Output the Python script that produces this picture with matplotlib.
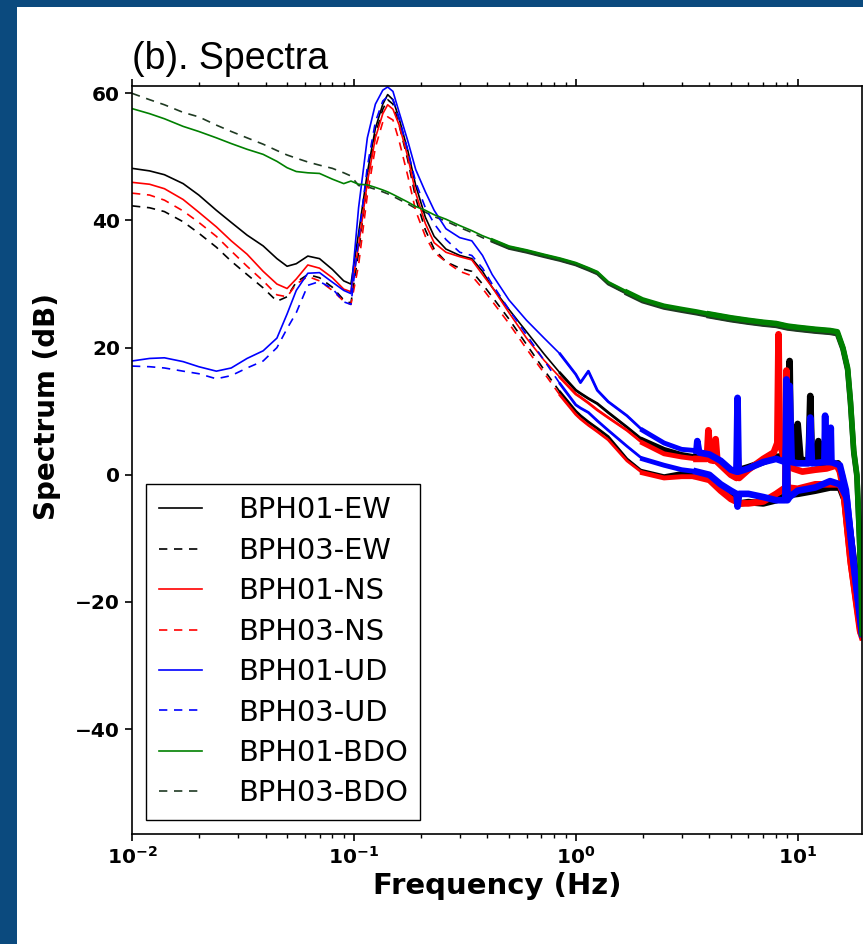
import numpy as np
import matplotlib.pyplot as plt
from matplotlib.patches import Rectangle

# ---- data (frequency in Hz, spectrum in dB) ----
freq_low = [0.01, 0.012, 0.014, 0.017, 0.02, 0.024, 0.028, 0.033, 0.039, 0.045,
            0.05, 0.055, 0.062, 0.07, 0.08, 0.09, 0.097, 0.105, 0.115, 0.125,
            0.135, 0.142, 0.15, 0.16, 0.175, 0.19, 0.21, 0.23, 0.26, 0.3,
            0.34, 0.38, 0.42, 0.5, 0.6, 0.72, 0.85, 1.0, 1.05, 1.14,
            1.25, 1.4, 1.7, 2.0, 2.5, 3.0]

ew01_low = [48.2, 47.8, 47.2, 45.8, 44.0, 41.6, 39.7, 37.7, 36.0, 34.0,
            32.8, 33.2, 34.4, 34.0, 32.3, 30.5, 30.0, 38.0, 47.5, 54.5,
            58.3, 59.8, 59.0, 56.0, 51.0, 45.5, 40.5, 37.5, 35.5, 34.5,
            34.0, 32.0, 29.5, 26.0, 22.5, 19.0, 16.0, 13.3, 12.8, 12.0,
            11.2, 9.8, 7.5, 5.5, 4.0, 3.2]
ew03_low = [42.3, 42.0, 41.4, 39.8, 38.0, 35.8, 33.6, 31.5, 29.4, 27.3,
            28.0, 30.3, 31.5, 31.0, 29.5, 27.5, 27.0, 35.0, 46.0, 53.5,
            57.5, 59.0, 58.3, 55.0, 49.5, 43.5, 38.5, 35.5, 33.5, 32.5,
            32.0, 30.0, 28.0, 24.5, 20.5, 16.5, 13.0, 10.0, 9.3, 8.3,
            7.3, 6.0, 2.5, 0.5, -0.3, 0.2]
ns01_low = [46.0, 45.7, 45.0, 43.3, 41.3, 39.0, 36.8, 34.7, 32.0, 30.0,
            29.3, 30.8, 33.0, 32.5, 31.0, 29.2, 28.8, 36.0, 46.0, 53.0,
            56.8, 58.2, 57.5, 55.0, 50.0, 44.3, 39.5, 36.5, 35.0, 34.3,
            33.8, 31.5, 29.5, 25.5, 21.5, 18.0, 15.3, 12.7, 12.2, 11.3,
            10.2, 9.0, 7.0, 5.0, 3.3, 2.8]
ns03_low = [44.3, 44.0, 43.2, 41.5, 39.7, 37.5, 35.2, 32.8, 30.5, 28.3,
            28.0, 30.0, 31.2, 30.5, 29.0, 27.3, 26.8, 33.0, 44.0, 51.5,
            55.5, 56.3, 55.8, 52.5, 47.0, 41.5, 37.5, 35.0, 33.5, 32.0,
            31.3, 29.3, 27.3, 23.8, 19.8, 16.0, 12.5, 9.5, 8.8, 7.8,
            6.8, 5.5, 2.2, 0.3, -0.5, -0.3]
ud01_low = [17.9, 18.3, 18.4, 17.8, 17.0, 16.3, 16.8, 18.3, 19.5, 21.5,
            25.3, 29.0, 31.7, 31.8, 30.3, 29.0, 28.5, 42.0, 53.0, 58.3,
            60.5, 61.0, 60.3, 57.0, 52.5, 48.0, 44.5, 41.6, 38.7, 37.3,
            36.8, 34.5, 31.5, 27.5, 24.3, 21.5, 19.0, 15.8, 14.5, 16.3,
            13.3, 11.5, 9.3, 7.0, 5.0, 4.0]
ud03_low = [17.1, 17.0, 16.8, 16.3, 15.9, 15.1, 15.6, 16.8, 17.9, 20.0,
            23.0, 25.5, 29.8, 30.4, 29.3, 27.2, 26.8, 37.0, 48.5, 55.5,
            58.8, 59.5, 59.0, 56.0, 51.0, 46.0, 42.0, 39.5, 37.0, 35.0,
            34.5, 32.5, 30.0, 26.0, 22.0, 18.0, 14.3, 11.0, 10.5, 9.8,
            8.5, 7.0, 4.5, 2.5, 1.5, 0.8]
bdo01_low = [57.6, 56.8, 56.0, 54.8, 54.0, 53.0, 52.1, 51.2, 50.4, 49.3,
             48.3, 47.7, 47.5, 47.4, 46.5, 45.8, 46.2, 45.7, 45.6, 45.2,
             44.8, 44.5, 44.1, 43.6, 42.9, 42.2, 41.6, 40.9, 40.2, 39.2,
             38.4, 37.6, 37.0, 35.9, 35.3, 34.6, 34.0, 33.3, 33.0, 32.5,
             31.9, 30.3, 28.8, 27.6, 26.6, 26.1]
bdo03_low = [60.0, 59.0, 58.2, 57.0, 56.3, 55.0, 54.0, 53.0, 52.0, 51.0,
             50.3, 49.8, 49.2, 48.7, 48.2, 47.5, 47.0, 45.5, 45.3, 44.9,
             44.5, 44.2, 43.8, 43.3, 42.6, 41.9, 41.3, 40.6, 39.9, 38.9,
             38.1, 37.3, 36.7, 35.6, 35.0, 34.3, 33.7, 33.0, 32.7, 32.2,
             31.6, 30.0, 28.5, 27.3, 26.3, 25.8]

# high-frequency part, including the narrow spectral lines
ew01_hf_f = [3.5, 4.0, 4.5, 5.0, 5.5, 6.0, 7.0, 8.0, 8.8, 9.1, 9.2, 9.3, 9.7,
             10.0, 10.3, 11.2, 11.4, 11.6, 12.2, 12.4, 12.6, 14.0, 15.2, 15.8,
             16.8, 18.0, 19.5]
ew01_hf = [2.8, 2.5, 2.0, 0.5, 0.8, 1.2, 2.0, 2.8, 3.0, 4.0, 17.9, 4.0, 2.5,
           8.0, 2.5, 2.0, 12.4, 2.0, 1.8, 5.3, 1.8, 1.5, 1.8, 0.0,
           -6.0, -14.0, -24.0]
ns01_hf_f = [3.5, 3.9, 3.96, 4.05, 4.2, 4.27, 4.35, 5.0, 5.3, 5.36, 5.45, 6.0,
             7.0, 7.8, 8.1, 8.2, 8.3, 8.7, 9.5, 10.5, 12.0, 13.5, 15.0, 15.5,
             16.1, 17.3, 19.1, 19.5]
ns01_hf = [2.5, 2.5, 7.0, 2.3, 2.2, 5.6, 2.0, 0.0, -0.5, 3.0, -0.5, 0.8,
           2.5, 3.5, 5.0, 22.1, 5.0, 2.5, 1.0, 0.5, 0.8, 1.0, 1.5, 0.5,
           -2.4, -13.4, -24.5, -25.5]
ud01_hf_f = [3.5, 3.53, 3.6, 4.0, 4.5, 5.0, 5.3, 5.36, 5.42, 6.0, 7.0, 8.0,
             8.8, 9.2, 9.4, 10.0, 11.2, 11.4, 11.6, 13.2, 13.3, 13.4, 14.0,
             14.1, 14.2, 15.5, 16.5, 17.8, 19.5]
ud01_hf = [3.8, 5.3, 3.5, 3.2, 2.2, 0.8, 0.5, 12.1, 0.5, 1.0, 2.0, 2.5,
           2.0, 14.0, 2.0, 1.8, 1.8, 9.0, 1.8, 2.0, 9.3, 2.0, 2.0,
           7.4, 2.0, 1.5, -2.4, -13.4, -25.0]
ew03_hf_f = [3.5, 4.0, 4.5, 5.0, 5.5, 6.0, 7.0, 8.0, 9.0, 10.0, 12.0, 14.0,
             15.5, 16.3, 17.5, 19.3]
ew03_hf = [0.0, -0.5, -2.0, -3.5, -4.5, -4.3, -4.5, -4.0, -3.2, -3.0, -2.5,
           -2.0, -2.0, -4.0, -14.0, -24.5]
ns03_hf_f = [3.5, 4.0, 4.5, 5.0, 5.5, 6.0, 7.0, 8.0, 8.8, 8.9, 9.0, 10.0,
             12.0, 14.0, 15.5, 16.2, 17.4, 19.2]
ns03_hf = [-0.3, -0.8, -2.5, -3.8, -4.5, -4.5, -4.2, -3.0, -2.0, 16.4, -2.0,
           -2.2, -1.5, -1.5, -1.5, -3.5, -14.0, -24.5]
ud03_hf_f = [3.5, 4.0, 4.5, 5.0, 5.3, 5.36, 5.45, 6.0, 7.0, 8.0, 8.8, 8.9,
             9.0, 9.2, 10.0, 12.0, 14.0, 15.5, 16.6, 17.9, 19.5]
ud03_hf = [0.5, 0.0, -1.5, -2.5, -3.0, -5.0, -3.0, -3.0, -3.5, -4.0, -4.0,
           15.0, -4.0, -3.5, -2.5, -2.0, -1.0, -1.5, -3.5, -14.0, -25.0]
bdo01_hf_f = [3.5, 4, 5, 6, 7, 8, 9, 10, 12, 14, 15.1, 16, 16.8, 17.3, 17.9,
              18.5, 19.0, 19.3, 19.5]
bdo01_hf = [25.7, 25.3, 24.7, 24.3, 24.0, 23.8, 23.4, 23.2, 22.9, 22.7, 22.5,
            20.0, 16.8, 11.6, 3.8, 0.0, -10.0, -17.0, -25.0]
bdo03_hf_f = [3.5, 4, 5, 6, 7, 8, 9, 10, 12, 14, 15.1, 16, 16.8, 17.3, 17.9,
              18.5, 19.0, 19.3, 19.5]
bdo03_hf = [25.4, 25.0, 24.4, 24.0, 23.7, 23.5, 23.1, 22.9, 22.6, 22.4, 22.2,
            19.8, 16.5, 11.3, 3.5, -0.3, -10.3, -17.3, -25.3]

labels = ['BPH01-EW', 'BPH03-EW', 'BPH01-NS', 'BPH03-NS',
          'BPH01-UD', 'BPH03-UD', 'BPH01-BDO', 'BPH03-BDO']
colors = ['k', 'k', 'r', 'r', 'b', 'b', 'g', '#1f3a22']
low_sets = [ew01_low, ew03_low, ns01_low, ns03_low, ud01_low, ud03_low, bdo01_low, bdo03_low]
hf_sets = [(ew01_hf_f, ew01_hf), (ew03_hf_f, ew03_hf), (ns01_hf_f, ns01_hf), (ns03_hf_f, ns03_hf),
           (ud01_hf_f, ud01_hf), (ud03_hf_f, ud03_hf), (bdo01_hf_f, bdo01_hf), (bdo03_hf_f, bdo03_hf)]

fig = plt.figure(figsize=(8.63, 9.44), dpi=100, facecolor='#0b4a7e')
fig.patches.append(Rectangle((17 / 863, 0), 1, 1 - 7 / 944, transform=fig.transFigure,
                             facecolor='white', edgecolor='none', zorder=-5))
ax = fig.add_axes([132 / 863, 1 - 834 / 944, 730 / 863, (834 - 85.7) / 944])

dash = (0, (5, 4))
for i, (lab, c) in enumerate(zip(labels, colors)):
    f = np.array(freq_low + hf_sets[i][0])
    s = np.array(low_sets[i] + hf_sets[i][1])
    ls = '-' if i % 2 == 0 else dash
    z = 1 if lab == 'BPH03-BDO' else 2
    ax.semilogx(f, s, color=c, lw=1.2, linestyle=ls, label=lab, zorder=z)
    # the noisy high-frequency part looks like a thick band
    if 'BDO' in lab:
        tiers = [(0.4, 2.0), (1.5, 3.2), (4.0, 4.0)]
    else:
        tiers = [(0.8, 2.0), (1.8, 3.5), (3.2, 4.8)]
    for fmin, w in tiers:
        m = f >= fmin
        ax.semilogx(f[m], s[m], color=c, lw=w, zorder=z)

ax.set_xlim(0.01, 19.5)
ax.set_ylim(-56.5, 61.2)
ax.set_xticks([0.01, 0.1, 1, 10])
ax.set_xticklabels([r'$\mathbf{10^{-2}}$', r'$\mathbf{10^{-1}}$', r'$\mathbf{10^{0}}$', r'$\mathbf{10^{1}}$'])
ax.set_yticks([-40, -20, 0, 20, 40, 60])
for t in ax.get_yticklabels():
    t.set_fontweight('bold')
ax.tick_params(which='major', direction='out', length=5, width=1.2, labelsize=14.5, top=True, pad=3.5)
ax.tick_params(which='minor', direction='out', length=3, width=1.0, top=True)
for sp in ax.spines.values():
    sp.set_linewidth(1.2)

ax.set_xlabel('Frequency (Hz)', fontsize=21, fontweight='bold', labelpad=3)
ax.set_ylabel('Spectrum (dB)', fontsize=20, fontweight='bold')
ax.yaxis.set_label_coords(-0.097, 0.571)
ax.set_title('(b). Spectra', loc='left', fontsize=27, family='Liberation Sans', pad=12)

leg = ax.legend(loc='lower left', fontsize=20.8, handlelength=1.5, handletextpad=1.24,
                labelspacing=0.43, fancybox=False, edgecolor='black', framealpha=1,
                borderpad=0.42)
leg.get_frame().set_linewidth(1.0)

fig.savefig('out.png', dpi=100, facecolor=fig.get_facecolor())
